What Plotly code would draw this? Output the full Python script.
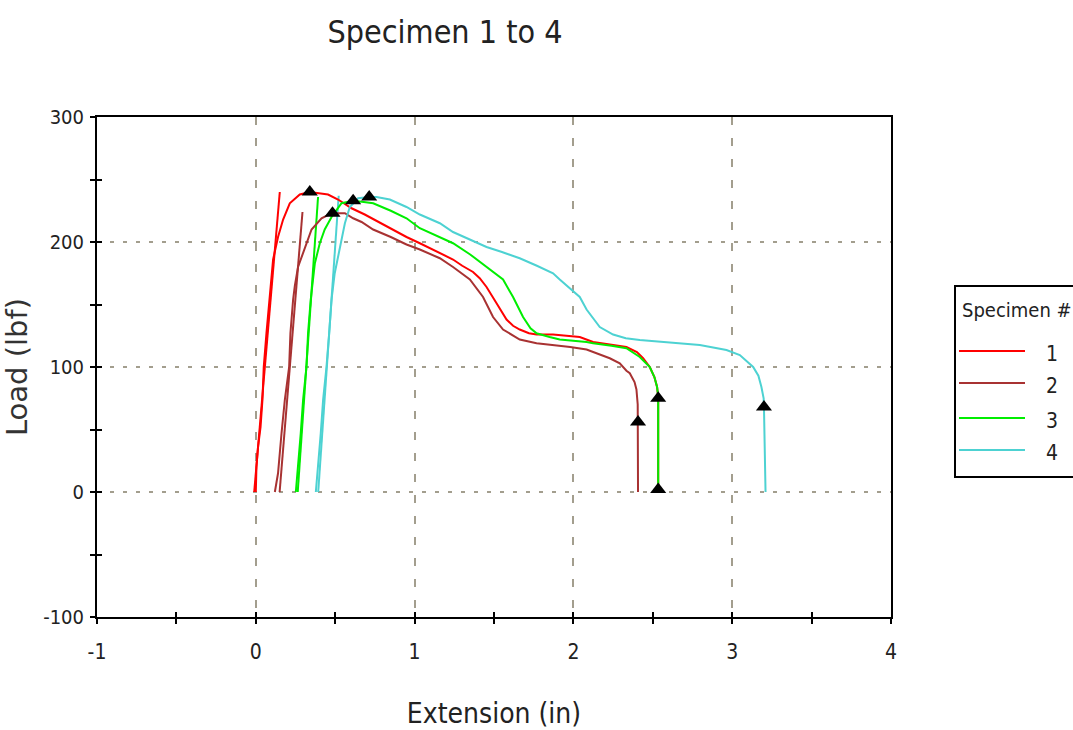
import plotly.graph_objects as go

# ---------------- data ----------------
spec_names = ["1", "2", "3", "4"]
spec_colors = ["#ff0000", "#a83232", "#00ee00", "#4dd2d2"]

s1_x = [0.0, 0.004, 0.014, 0.03, 0.042, 0.05, 0.067, 0.088, 0.109, 0.14, 0.172, 0.214, 0.277, 0.34,
        0.40, 0.455, 0.518, 0.603, 0.686, 0.80, 0.949, 1.033, 1.159, 1.242, 1.30, 1.368, 1.41, 1.453,
        1.516, 1.579, 1.62, 1.662, 1.72, 1.768, 1.872, 1.95, 2.04, 2.124, 2.24, 2.334, 2.40, 2.439,
        2.481, 2.51, 2.527, 2.534, 2.534]
s1_y = [0, 20, 36, 52, 74, 100, 127, 154, 186, 204, 218, 231, 238, 240,
        239, 238, 234, 227, 222, 214, 204, 199, 191, 186, 181, 176, 171, 164,
        151, 138, 133, 130, 127, 126, 126, 125, 124, 120, 118, 116, 112, 107,
        100, 92, 84, 76, 0]

s2_x = [0.12, 0.14, 0.162, 0.183, 0.21, 0.218, 0.235, 0.246, 0.266, 0.309, 0.351, 0.414, 0.477, 0.561,
        0.613, 0.666, 0.739, 0.85, 0.949, 1.033, 1.159, 1.242, 1.348, 1.431, 1.494, 1.557, 1.662,
        1.768, 1.872, 1.98, 2.083, 2.124, 2.229, 2.292, 2.334, 2.355, 2.385, 2.397, 2.405, 2.407]
s2_y = [0, 15, 47, 74, 100, 127, 154, 165, 180, 196, 210, 219, 223, 223,
        219, 216, 210, 204, 198, 194, 187, 180, 170, 156, 140, 130, 122,
        119, 117.6, 116, 114, 112, 107, 103, 97, 95, 88, 82, 70, 0]

s3_x = [0.252, 0.266, 0.283, 0.298, 0.319, 0.329, 0.346, 0.372, 0.403, 0.434, 0.477, 0.54, 0.613,
        0.68, 0.739, 0.85, 0.949, 1.033, 1.159, 1.242, 1.35, 1.453, 1.557, 1.62, 1.683, 1.73, 1.768,
        1.85, 1.914, 2.083, 2.124, 2.24, 2.334, 2.418, 2.481, 2.51, 2.527, 2.534, 2.534]
s3_y = [0, 20, 47, 74, 100, 127, 154, 183, 199, 210, 220, 231, 233,
        232, 231, 225, 219, 211, 204, 199, 190, 180, 170, 156, 140, 131, 127,
        124, 122, 120, 119, 117, 115, 108, 100, 92, 84, 76, 0]

s4_x = [0.378, 0.392, 0.409, 0.424, 0.445, 0.462, 0.477, 0.497, 0.529, 0.561, 0.592, 0.644, 0.714,
        0.76, 0.844, 0.949, 1.033, 1.159, 1.242, 1.35, 1.453, 1.55, 1.662, 1.77, 1.872, 1.914, 1.977,
        2.04, 2.083, 2.166, 2.25, 2.33, 2.418, 2.586, 2.796, 2.964, 3.048, 3.132, 3.165, 3.184,
        3.198, 3.20, 3.21]
s4_y = [0, 20, 47, 74, 100, 127, 154, 175, 196, 215, 228, 235, 236,
        236, 234, 228, 222, 215, 208, 202, 196, 192, 187, 181, 175, 170, 163,
        156, 146, 132, 126, 123, 121.6, 120, 117.6, 113.6, 109.6, 100, 93, 84,
        75, 68, 0]

# initial (modulus) lines
mod_x = [[-0.01, 0.151], [0.15, 0.294], [0.264, 0.392], [0.393, 0.522]]
mod_y = [[0, 240], [0, 224], [0, 236], [0, 237]]

# peak and break markers
peak_x = [0.34, 0.483, 0.613, 0.714]
peak_y = [240, 223, 233, 236]
break_x = [2.534, 2.407, 2.534, 3.20]
break_y = [75, 56, 2, 68]

x_tick_vals = [-1, 0, 1, 2, 3, 4]
x_tick_text = ["-1", "0", "1", "2", "3", "4"]
y_tick_vals = [-100, 0, 100, 200, 300]
y_tick_text = ["-100", "0", "100", "200", "300"]

# ---------------- figure ----------------
FONT = "DejaVu Sans Condensed, DejaVu Sans, sans-serif"
TXT = "#222222"

fig = go.Figure()
curves_x = [s1_x, s2_x, s3_x, s4_x]
curves_y = [s1_y, s2_y, s3_y, s4_y]
for i in range(4):
    fig.add_trace(go.Scatter(x=mod_x[i], y=mod_y[i], mode="lines",
                             line=dict(color=spec_colors[i], width=2),
                             showlegend=False, hoverinfo="skip"))
for i in range(4):
    fig.add_trace(go.Scatter(x=curves_x[i], y=curves_y[i], mode="lines", name=spec_names[i],
                             line=dict(color=spec_colors[i], width=2), showlegend=False))
fig.add_trace(go.Scatter(x=peak_x + break_x, y=peak_y + break_y, mode="markers",
                         marker=dict(symbol="triangle-up", size=14, color="black"),
                         showlegend=False))
# dummy trace for overlay axes (inside tick marks)
fig.add_trace(go.Scatter(x=[None], y=[None], xaxis="x2", yaxis="y2", showlegend=False,
                         hoverinfo="skip"))

GRIDC = "#a39e8e"
fig.update_layout(
    width=1073, height=730,
    margin=dict(l=97, r=182, t=117, b=113),
    paper_bgcolor="white", plot_bgcolor="white",
    font=dict(family=FONT, color=TXT, size=20),
    title=dict(text="Specimen 1 to 4", x=445 / 1073, xref="container", xanchor="center",
               y=1 - 32 / 730, yref="container", yanchor="middle",
               font=dict(family=FONT, size=32, color=TXT)),
    xaxis=dict(range=[-1, 4], tickvals=x_tick_vals, ticktext=x_tick_text,
               showline=True, linecolor="black", linewidth=2, mirror=True,
               ticks="outside", ticklen=5, tickwidth=1.5, tickcolor="black",
               minor=dict(dtick=0.5, ticks="outside", ticklen=5, tickwidth=1.5,
                          tickcolor="black", showgrid=False),
               showgrid=True, gridcolor=GRIDC, gridwidth=2, griddash="8px,13px",
               zeroline=False, tickfont=dict(size=21), ticklabelstandoff=10,
               automargin=False,
               title=dict(text="Extension (in)", font=dict(size=28), standoff=40)),
    yaxis=dict(range=[-100, 300], tickvals=y_tick_vals, ticktext=y_tick_text,
               showline=True, linecolor="black", linewidth=2, mirror=True,
               ticks="outside", ticklen=5, tickwidth=1.5, tickcolor="black",
               minor=dict(dtick=50, ticks="outside", ticklen=5, tickwidth=1.5,
                          tickcolor="black", showgrid=False),
               showgrid=True, gridcolor=GRIDC, gridwidth=2, griddash="4px,9px",
               zeroline=False, tickfont=dict(size=20), ticklabelstandoff=2,
               automargin=False,
               title=dict(text="Load (lbf)", standoff=10,
                          font=dict(family="DejaVu Sans, sans-serif", size=29, color="#333333"))),
    xaxis2=dict(range=[-1, 4], overlaying="x", anchor="y2", side="bottom",
                tickvals=x_tick_vals, showticklabels=False, ticks="inside", ticklen=5,
                tickwidth=1.5, tickcolor="black", automargin=False,
                minor=dict(dtick=0.5, ticks="inside", ticklen=5, tickwidth=1.5,
                           tickcolor="black", showgrid=False),
                showgrid=False, zeroline=False, showline=False),
    yaxis2=dict(range=[-100, 300], overlaying="y", anchor="x2", side="left",
                tickvals=y_tick_vals, showticklabels=False, ticks="inside", ticklen=5,
                tickwidth=1.5, tickcolor="black", automargin=False,
                minor=dict(dtick=50, ticks="inside", ticklen=5, tickwidth=1.5,
                           tickcolor="black", showgrid=False),
                showgrid=False, zeroline=False, showline=False),
)

# manual legend (box cut off at right edge, as in the reference)
def px_x(p):
    return (p - 97) / 794


def px_y(p):
    return (617 - p) / 500


fig.add_shape(type="rect", xref="paper", yref="paper",
              x0=px_x(955), x1=px_x(1085), y0=px_y(477), y1=px_y(286),
              line=dict(color="black", width=2), fillcolor="white", layer="above")
fig.add_annotation(text="Specimen #", xref="paper", yref="paper", x=px_x(960), y=px_y(310),
                   xanchor="left", yanchor="middle", showarrow=False,
                   font=dict(family=FONT, size=20, color=TXT))
leg_y_px = [351, 383, 418, 450]
for i in range(4):
    fig.add_shape(type="line", xref="paper", yref="paper",
                  x0=px_x(959), x1=px_x(1025), y0=px_y(leg_y_px[i]), y1=px_y(leg_y_px[i]),
                  line=dict(color=spec_colors[i], width=2))
    fig.add_annotation(text=spec_names[i], xref="paper", yref="paper", x=px_x(1052),
                       y=px_y(leg_y_px[i] + 3), xanchor="center", yanchor="middle",
                       showarrow=False, font=dict(family=FONT, size=21, color=TXT))

fig.write_html("out.html")
